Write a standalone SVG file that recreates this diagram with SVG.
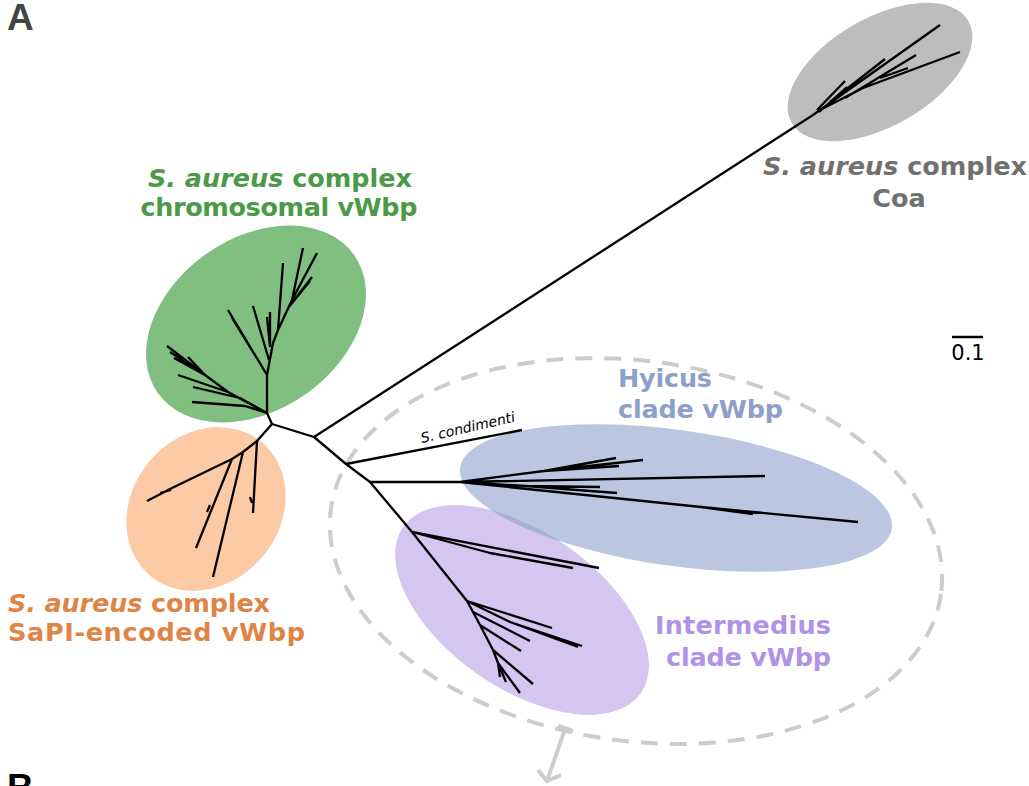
<svg xmlns="http://www.w3.org/2000/svg" width="1029" height="786" viewBox="0 0 1029 786">
<style>
.lbl{font-family:"DejaVu Sans",Verdana,sans-serif;font-weight:bold;font-size:25.5px}
.it{font-style:italic}
.br{fill:none;stroke:#000;stroke-width:2.3;stroke-linejoin:round}
.panel{font-family:"Liberation Sans",Arial,sans-serif;font-weight:bold;font-size:37px}
</style>
<rect width="1029" height="786" fill="#fff"/>
<text class="panel" x="7" y="30" fill="#444">A</text>
<text class="panel" x="7" y="800" fill="#000">B</text>

<g id="coa">
<ellipse cx="880" cy="72" rx="102" ry="54" transform="rotate(-30 880 72)" fill="#bdbdbd"/>
<text class="lbl" x="895" y="175" text-anchor="middle" fill="#707070" textLength="264" lengthAdjust="spacing"><tspan class="it">S. aureus</tspan> complex</text>
<text class="lbl" x="899" y="207" text-anchor="middle" fill="#707070">Coa</text>
</g>
<g id="chromosomal">
<ellipse cx="256" cy="324" rx="120" ry="86" transform="rotate(-35 256 324)" fill="#80bf80"/>
<text class="lbl" x="280" y="187" text-anchor="middle" fill="#4a9a48" textLength="264" lengthAdjust="spacing"><tspan class="it">S. aureus</tspan> complex</text>
<text class="lbl" x="279" y="216" text-anchor="middle" fill="#4a9a48" textLength="277" lengthAdjust="spacing">chromosomal vWbp</text>
</g>
<g id="sapi">
<ellipse cx="206" cy="509" rx="87" ry="74" transform="rotate(-50 206 509)" fill="#fdcaa6"/>
<text class="lbl" x="8" y="612" fill="#e08446" textLength="262" lengthAdjust="spacing"><tspan class="it">S. aureus</tspan> complex</text>
<text class="lbl" x="8" y="641" fill="#e08446" textLength="297" lengthAdjust="spacing">SaPI-encoded vWbp</text>
</g>
<g id="intermedius">
<ellipse cx="522" cy="610" rx="145" ry="78" transform="rotate(35 522 610)" fill="#a98be4" fill-opacity="0.5"/>
<text class="lbl" x="831" y="634" text-anchor="end" fill="#b092e6" textLength="176" lengthAdjust="spacing">Intermedius</text>
<text class="lbl" x="831" y="666" text-anchor="end" fill="#b092e6" textLength="165" lengthAdjust="spacing">clade vWbp</text>
</g>
<g id="hyicus">
<ellipse cx="676" cy="498" rx="218" ry="68" transform="rotate(8 676 498)" fill="#8da0cb" fill-opacity="0.6"/>
<text class="lbl" x="618" y="387" fill="#8da0cb" textLength="94" lengthAdjust="spacing">Hyicus</text>
<text class="lbl" x="618" y="418" fill="#8da0cb" textLength="165" lengthAdjust="spacing">clade vWbp</text>
</g>
<g id="group-outline">
<ellipse cx="636" cy="551" rx="308" ry="190" transform="rotate(8 636 551)" fill="none" stroke="#cccccc" stroke-width="4" stroke-dasharray="17 12"/>
<path d="M558 726 L573 731 M565 729 L547 781 M538 770 L547 781 L561 775" fill="none" stroke="#cccccc" stroke-width="4"/>
</g>

<g id="connectors" class="br">
<path class="br" d="M272 424 L314 437 L813 115 M314 437 L346 464 L522 430 M346 464 L370 482 L460 482 M370 482 L412 532 L467 601"/>
<path class="br" d="M272 424 L267 413 L267 375 L273 343 L278 330 L283 263 M267 413 L228 392 L205 375 L167 346 M205 375 L170 352 M205 375 L188 357 M205 375 L174 358 M228 392 L178 375 M267 413 L240 398 L193 387 M267 413 L245 406 L192 402 M267 375 L228 310 M258 360 L232 318 M269 360 L253 306 M270 347 L267 317 M270 347 L270 312 M278 330 L292 300 L303 248 M292 300 L317 253 M288 308 L312 277 M288 308 L310 281"/>
<path class="br" d="M272 424 L257 441 L253 513 M257 441 L243 452 L213 577 M243 452 L232 459 L196 548 M232 459 L172 488 L147 501 M252 503 L250 497 M210 505 L207 512 M160 493 L171 490"/>
<path class="br" d="M813 115 L940 25 M820 110 L863 88 L960 52 M845 98 L916 55 M880 78 L908 68 M830 102 L885 59 M817 110 L845 81 M819 112 L847 87"/>
<path class="br" d="M460 482 L544 471 L616 458 M544 471 L643 460 M544 471 L619 466 M460 482 L765 476 M460 482 L526 486 L600 487 M526 486 L577 490 L617 493 M460 482 L701 507 L858 522 M701 507 L753 514"/>
<path class="br" d="M412 532 L599 568 M412 532 L490 553 L573 568 M467 601 L552 628 M467 601 L510 622 L582 646 M510 622 L578 647 M467 601 L473 612 L530 641 M473 612 L480 625 L521 651 M480 625 L493 650 L533 684 M493 650 L498 663 L520 693 M498 663 L500 677 M498 663 L506 682"/>
</g>
<text x="422" y="443" transform="rotate(-13 422 443)" font-family="DejaVu Sans,Verdana,sans-serif" font-style="italic" font-size="14" fill="#000">S. condimenti</text>

<g id="scale">
<path d="M952 337 L983 337" stroke="#000" stroke-width="2.5"/>
<text x="968" y="360" text-anchor="middle" font-family="DejaVu Sans,Verdana,sans-serif" font-size="21" fill="#000">0.1</text>
</g>
</svg>
